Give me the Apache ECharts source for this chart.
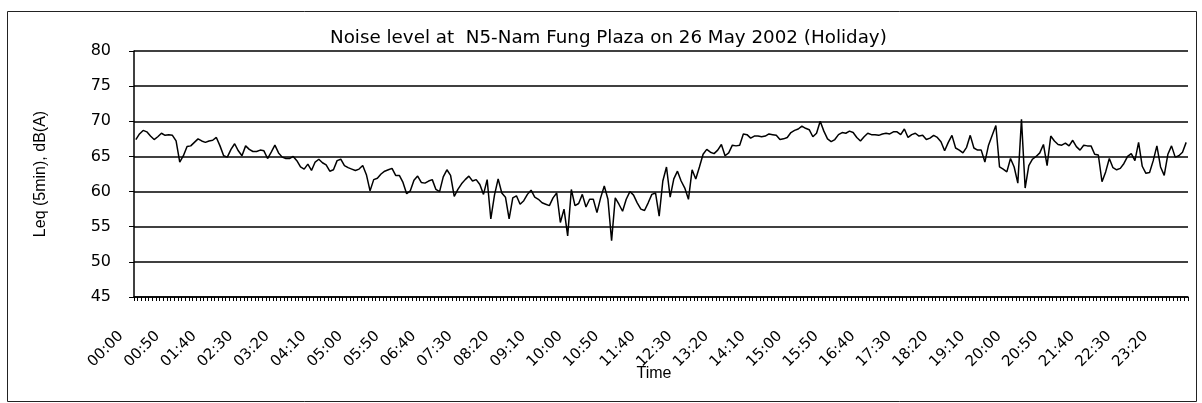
<!DOCTYPE html>
<html>
<head>
<meta charset="utf-8">
<script src="https://cdn.jsdelivr.net/npm/echarts@6/dist/echarts.min.js"></script>
<style>html,body{margin:0;padding:0;background:#fff;}#c{width:1202px;height:403px;}</style>
</head>
<body>
<div id="c"></div>
<script>
// 5-minute time slots, 00:00 .. 23:55
const hours = ['00','01','02','03','04','05','06','07','08','09','10','11','12','13','14','15','16','17','18','19','20','21','22','23'];
const minutes = ['00','05','10','15','20','25','30','35','40','45','50','55'];
const categories = [];
hours.forEach(h => minutes.forEach(m => categories.push(h + ':' + m)));

// Leq (5min), dB(A)
const leq0000_0355 = [
  67.4, 68.2, 68.7, 68.5, 67.9, 67.4, 67.8, 68.3, 68.0, 68.1,
  68.0, 67.2, 64.2, 65.1, 66.4, 66.5, 67.0, 67.5, 67.2, 67.0,
  67.2, 67.3, 67.7, 66.5, 65.1, 64.9, 66.0, 66.8, 65.8, 65.1,
  66.5, 66.0, 65.7, 65.7, 65.9, 65.8, 64.7, 65.6, 66.6, 65.5,
  64.9, 64.7, 64.7, 65.0, 64.4, 63.5, 63.2, 63.9
];
const leq0400_0755 = [
  63.0, 64.2, 64.6, 64.1, 63.8, 62.9, 63.1, 64.4, 64.6, 63.7,
  63.4, 63.2, 63.0, 63.2, 63.7, 62.4, 60.1, 61.7, 61.9, 62.5,
  62.9, 63.1, 63.3, 62.3, 62.3, 61.3, 59.7, 60.1, 61.6, 62.2,
  61.3, 61.2, 61.5, 61.7, 60.3, 60.0, 62.1, 63.1, 62.3, 59.3,
  60.3, 61.1, 61.7, 62.2, 61.5, 61.7, 61.0, 59.6
];
const leq0800_1155 = [
  61.7, 56.1, 59.5, 61.8, 59.8, 59.2, 56.1, 59.1, 59.4, 58.2,
  58.7, 59.6, 60.2, 59.2, 58.9, 58.4, 58.2, 58.0, 59.1, 59.8,
  55.6, 57.5, 53.7, 60.3, 58.0, 58.3, 59.6, 57.8, 58.9, 58.9,
  57.0, 59.1, 60.8, 58.9, 53.0, 59.1, 58.2, 57.2, 58.9, 60.0,
  59.5, 58.4, 57.5, 57.3, 58.4, 59.6, 59.8, 56.5
];
const leq1200_1555 = [
  61.5, 63.5, 59.2, 61.8, 62.9, 61.5, 60.5, 58.9, 63.1, 61.8,
  63.5, 65.3, 66.0, 65.6, 65.4, 65.9, 66.7, 65.1, 65.5, 66.6,
  66.5, 66.6, 68.2, 68.1, 67.6, 67.9, 67.9, 67.8, 67.9, 68.2,
  68.1, 68.0, 67.4, 67.5, 67.7, 68.4, 68.7, 68.9, 69.3, 69.0,
  68.8, 67.8, 68.3, 70.0, 68.6, 67.5, 67.1, 67.4
];
const leq1600_1955 = [
  68.1, 68.4, 68.3, 68.6, 68.4, 67.7, 67.2, 67.8, 68.3, 68.1,
  68.1, 68.0, 68.2, 68.3, 68.2, 68.5, 68.5, 68.1, 68.9, 67.7,
  68.1, 68.3, 67.9, 68.0, 67.4, 67.6, 68.0, 67.7, 67.1, 65.8,
  67.0, 68.0, 66.2, 65.9, 65.5, 66.3, 68.0, 66.2, 65.9, 65.9,
  64.2, 66.6, 68.0, 69.4, 63.5, 63.2, 62.8, 64.7
];
const leq2000_2355 = [
  63.5, 61.2, 70.3, 60.5, 63.7, 64.6, 65.0, 65.5, 66.7, 63.7,
  67.9, 67.2, 66.7, 66.6, 66.9, 66.5, 67.3, 66.4, 65.9, 66.6,
  66.5, 66.5, 65.3, 65.2, 61.4, 62.8, 64.7, 63.4, 63.1, 63.3,
  64.0, 65.0, 65.4, 64.4, 67.0, 63.6, 62.6, 62.7, 64.4, 66.5,
  63.5, 62.3, 65.3, 66.5, 64.9, 65.1, 65.6, 67.0
];
const leqValues = [].concat(leq0000_0355, leq0400_0755, leq0800_1155, leq1200_1555, leq1600_1955, leq2000_2355);

const yTicks = { min: 45, max: 80, step: 5 };
const titleText = 'Noise level at  N5-Nam Fung Plaza on 26 May 2002 (Holiday)';
const yName = 'Leq (5min), dB(A)';
const xName = 'Time';

const WIDE = '"DejaVu Sans", Verdana, sans-serif';
const FONT = '"Liberation Sans", Arial, sans-serif';
const chart = echarts.init(document.getElementById('c'), null, { renderer: 'canvas' });
chart.setOption({
  animation: false,
  backgroundColor: '#fff',
  title: {
    text: titleText,
    left: 330,
    top: 24,
    padding: [5, 0, 5, 0],
    textStyle: { fontFamily: WIDE, fontSize: 18.3, fontWeight: 'normal', color: '#000' }
  },
  graphic: [{
    type: 'rect',
    shape: { x: 7.5, y: 11.5, width: 1189, height: 390 },
    style: { fill: 'none', stroke: '#222', lineWidth: 1 },
    silent: true
  }],
  grid: { left: 134, right: 14, top: 51, bottom: 106, containLabel: false },
  xAxis: {
    type: 'category',
    data: categories,
    boundaryGap: true,
    name: xName,
    nameLocation: 'middle',
    nameGap: 69,
    nameMoveOverlap: false,
    nameTextStyle: { fontFamily: FONT, fontSize: 16, color: '#000', padding: [0, 14, 0, 0] },
    axisLine: { show: true, lineStyle: { color: '#000', width: 1.5 } },
    axisTick: { show: true, interval: 0, length: 4, lineStyle: { color: '#000', width: 1 } },
    axisLabel: { interval: 9, rotate: 45, fontFamily: WIDE, fontSize: 15, color: '#000', margin: 22, padding: [0, 21, 0, 0] },
    splitLine: { show: false }
  },
  yAxis: {
    type: 'value',
    min: yTicks.min,
    max: yTicks.max,
    interval: yTicks.step,
    name: yName,
    nameLocation: 'middle',
    nameRotate: 90,
    nameGap: 85,
    nameMoveOverlap: false,
    nameTextStyle: { fontFamily: FONT, fontSize: 16, color: '#000' },
    axisLine: { show: true, lineStyle: { color: '#000', width: 1.5 } },
    axisTick: { show: true, length: 5, lineStyle: { color: '#000' } },
    axisLabel: { fontFamily: WIDE, fontSize: 16, color: '#000', margin: 23 },
    splitLine: { show: true, lineStyle: { color: '#000', width: 1.5 } }
  },
  series: [{
    type: 'line',
    data: leqValues,
    symbol: 'none',
    lineStyle: { color: '#000', width: 1.5 }
  }]
});
</script>
</body>
</html>
